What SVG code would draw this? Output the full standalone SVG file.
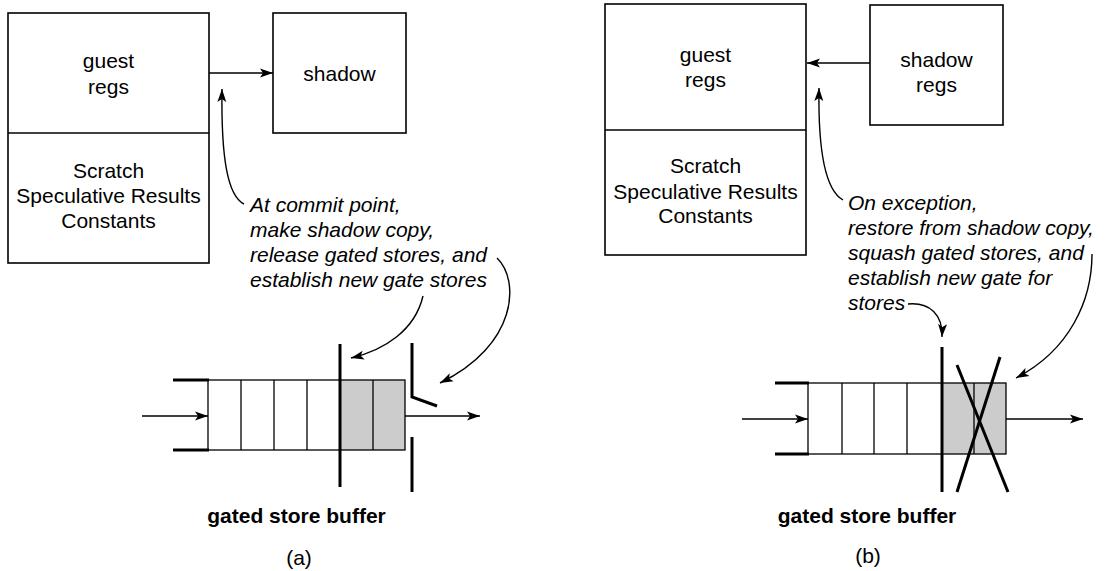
<svg xmlns="http://www.w3.org/2000/svg" width="1106" height="571" viewBox="0 0 1106 571">
<defs>
<style>
text{font-family:"Liberation Sans",Arial,Helvetica,sans-serif;font-size:21px;fill:#000}
.c{text-anchor:middle}
.i{font-style:italic}
.b{font-weight:bold}
.box{fill:#fff;stroke:#000;stroke-width:1.6}
.cell{fill:none;stroke:#000;stroke-width:1.3}
.grey{fill:#cccccc;stroke:none}
.thick{stroke:#000;stroke-width:3;fill:none}
.conn{stroke:#000;stroke-width:1.4;fill:none;marker-end:url(#ah)}
</style>
<marker id="ah" markerUnits="userSpaceOnUse" markerWidth="14" markerHeight="10" refX="13" refY="5" orient="auto">
<path d="M0,0.5 L13,5 L0,9.5 L3,5 z" fill="#000"/>
</marker>
</defs>
<rect width="1106" height="571" fill="#fff"/>

<!-- Panel (a) -->
<g id="a-guest-regs">
<rect class="box" x="8" y="13" width="201" height="250"/>
<line class="cell" x1="8" y1="133" x2="209" y2="133"/>
<text class="c" x="108.5" y="68">guest</text>
<text class="c" x="108.5" y="94">regs</text>
<text class="c" x="108.5" y="178">Scratch</text>
<text class="c" x="108.5" y="203">Speculative Results</text>
<text class="c" x="108.5" y="228">Constants</text>
</g>
<g id="a-shadow">
<rect class="box" x="273" y="13" width="133" height="120"/>
<text class="c" x="339.5" y="81">shadow</text>
</g>
<g id="a-note">
<text class="i" x="250" y="212">At commit point,</text>
<text class="i" x="250" y="237">make shadow copy,</text>
<text class="i" x="250" y="262">release gated stores, and</text>
<text class="i" x="250" y="287">establish new gate stores</text>
</g>
<g id="a-buffer">
<rect class="grey" x="340" y="380" width="65" height="70"/>
<rect class="cell" x="208" y="380" width="197" height="70"/>
<line class="cell" x1="241" y1="380" x2="241" y2="450"/>
<line class="cell" x1="274" y1="380" x2="274" y2="450"/>
<line class="cell" x1="307" y1="380" x2="307" y2="450"/>
<line class="cell" x1="373" y1="380" x2="373" y2="450"/>
<line class="thick" x1="173" y1="380" x2="209" y2="380"/>
<line class="thick" x1="173" y1="450" x2="209" y2="450"/>
<line class="thick" x1="340" y1="344" x2="340" y2="487"/>
<polyline class="thick" points="412,343 412,397 437,406"/>
<line class="thick" x1="412" y1="437" x2="412" y2="492"/>
<text class="c b" x="296.5" y="523">gated store buffer</text>
</g>
<text class="c" x="299" y="565">(a)</text>

<!-- Panel (b) -->
<g id="b-guest-regs">
<rect class="box" x="605" y="4" width="201" height="251"/>
<line class="cell" x1="605" y1="130" x2="806" y2="130"/>
<text class="c" x="705.5" y="62">guest</text>
<text class="c" x="705.5" y="87">regs</text>
<text class="c" x="705.5" y="173">Scratch</text>
<text class="c" x="705.5" y="199">Speculative Results</text>
<text class="c" x="705.5" y="223">Constants</text>
</g>
<g id="b-shadow-regs">
<rect class="box" x="870" y="5" width="133" height="120"/>
<text class="c" x="936.5" y="67">shadow</text>
<text class="c" x="936.5" y="92">regs</text>
</g>
<g id="b-note">
<text class="i" x="848" y="210">On exception,</text>
<text class="i" x="848" y="235">restore from shadow copy,</text>
<text class="i" x="848" y="260">squash gated stores, and</text>
<text class="i" x="848" y="285">establish new gate for</text>
<text class="i" x="848" y="310">stores</text>
</g>
<g id="b-buffer">
<rect class="grey" x="941" y="383" width="65" height="71"/>
<rect class="cell" x="808" y="383" width="198" height="71"/>
<line class="cell" x1="842" y1="383" x2="842" y2="454"/>
<line class="cell" x1="874" y1="383" x2="874" y2="454"/>
<line class="cell" x1="907" y1="383" x2="907" y2="454"/>
<line class="cell" x1="974" y1="383" x2="974" y2="454"/>
<line class="thick" x1="775" y1="383" x2="809" y2="383"/>
<line class="thick" x1="775" y1="454" x2="809" y2="454"/>
<line class="thick" x1="942" y1="347" x2="942" y2="492"/>
<line class="thick" x1="957" y1="365" x2="1008" y2="492"/>
<line class="thick" x1="1000" y1="357" x2="957" y2="492"/>
<text class="c b" x="867" y="523">gated store buffer</text>
</g>
<text class="c" x="868" y="563">(b)</text>

<g id="connectors">
<line class="conn" x1="209" y1="73" x2="273" y2="73"/>
<path class="conn" d="M244 204 C228 196 221 160 222 89"/>
<path class="conn" d="M423 296 C415 330 385 350 351 358"/>
<path class="conn" d="M497 258 C520 280 518 345 440 383"/>
<line class="conn" x1="142" y1="416" x2="208" y2="416"/>
<line class="conn" x1="405" y1="416" x2="480" y2="416"/>

<line class="conn" x1="870" y1="63" x2="807" y2="63"/>
<path class="conn" d="M843 200 C825 190 818 150 819 88"/>
<path class="conn" d="M908 304 C930 302 943 315 942 337"/>
<path class="conn" d="M1092 254 C1092 300 1070 350 1016 378"/>
<line class="conn" x1="742" y1="419" x2="808" y2="419"/>
<line class="conn" x1="1006" y1="419" x2="1083" y2="419"/>
</g>
</svg>
